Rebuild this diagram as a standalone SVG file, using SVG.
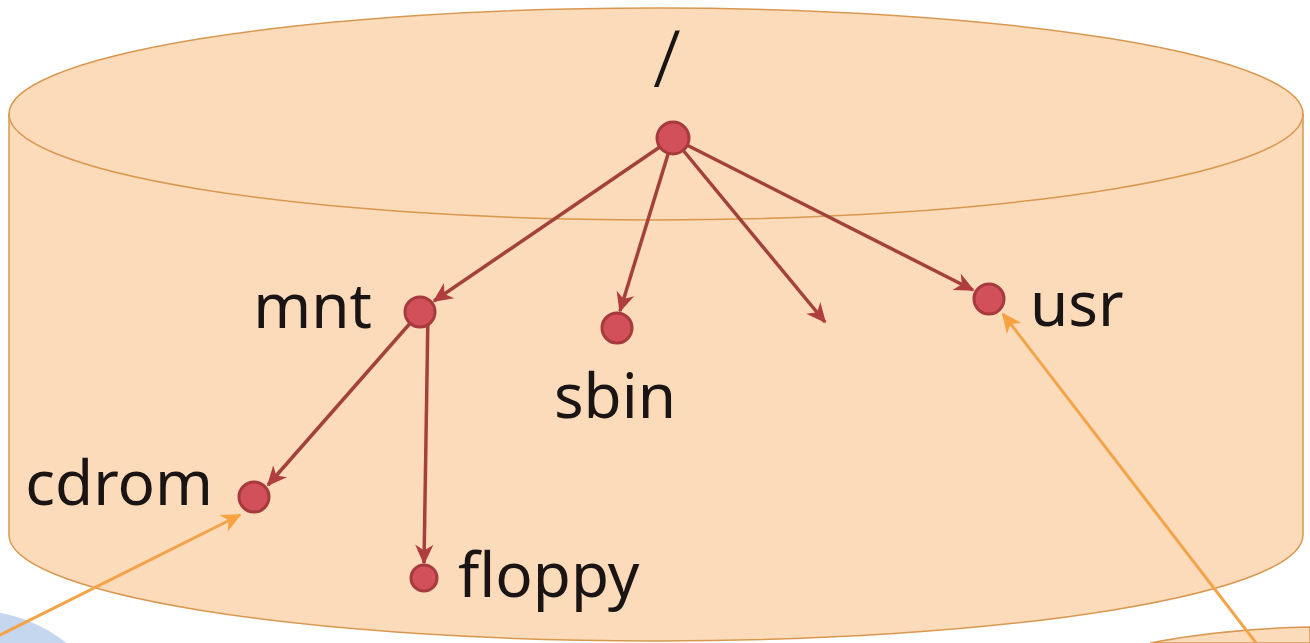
<svg xmlns="http://www.w3.org/2000/svg" width="1310" height="643" viewBox="0 0 1310 643">
<defs>
<style>
.cyl{fill:#fcdbbb;stroke:#d9984f;stroke-width:1.5}
.node{fill:#d1505a;stroke:#a63a3c;stroke-width:3}
.edge{stroke:#a3413b;stroke-width:3.5;fill:none}
.ext{stroke:#f3a448;stroke-width:3;fill:none}
.lbl{font-family:"Noto Sans","Open Sans",sans-serif;font-size:62px;fill:#1a1414}
</style>
<marker id="ah" viewBox="0 0 12 12" refX="11" refY="6" markerWidth="22" markerHeight="20" orient="auto" markerUnits="userSpaceOnUse">
<path d="M0,0.5 L12,6 L0,11.5 L3.5,6 Z" fill="#b03e3e"/>
</marker>
<marker id="ah2" viewBox="0 0 12 12" refX="11" refY="6" markerWidth="22" markerHeight="20" orient="auto" markerUnits="userSpaceOnUse">
<path d="M0,0.5 L12,6 L0,11.5 L3.5,6 Z" fill="#f5a23f"/>
</marker>
</defs>
<rect width="1310" height="643" fill="#ffffff"/>
<g id="background">
<ellipse cx="-30" cy="730" rx="140" ry="120" fill="#c4d7ee"/>
<path d="M1150,643 Q1220,629 1310,627 L1310,643 Z" fill="#fcdbbb" stroke="#d9984f" stroke-width="1.5"/>
</g>
<g id="cylinder">
<path class="cyl" d="M9,114 L9,535 A647,106 0 0 0 1303,535 L1303,114 Z"/>
<ellipse class="cyl" cx="656" cy="114" rx="647" ry="106"/>
</g>
<g id="connectors">
<line class="edge" x1="673" y1="138" x2="434" y2="301" marker-end="url(#ah)"/>
<line class="edge" x1="673" y1="138" x2="620" y2="311" marker-end="url(#ah)"/>
<line class="edge" x1="673" y1="138" x2="825" y2="322" marker-end="url(#ah)"/>
<line class="edge" x1="673" y1="138" x2="973" y2="290" marker-end="url(#ah)"/>
<line class="edge" x1="420" y1="312" x2="268" y2="485" marker-end="url(#ah)"/>
<line class="edge" x1="428" y1="312" x2="424" y2="563" marker-end="url(#ah)"/>
<line class="ext" x1="-10" y1="640" x2="240" y2="515" marker-end="url(#ah2)"/>
<line class="ext" x1="1260" y1="648" x2="1003" y2="314" marker-end="url(#ah2)"/>
</g>
<g id="node-root">
<circle class="node" cx="673" cy="138" r="16"/>
<text class="lbl" x="667" y="87" text-anchor="middle" style="font-size:80px;font-weight:300">/</text>
</g>
<g id="node-mnt">
<circle class="node" cx="420" cy="312" r="15"/>
<text class="lbl" x="372" y="328" text-anchor="end">mnt</text>
</g>
<g id="node-sbin">
<circle class="node" cx="617" cy="328" r="15"/>
<text class="lbl" x="615" y="418" text-anchor="middle">sbin</text>
</g>
<g id="node-usr">
<circle class="node" cx="989" cy="299" r="15"/>
<text class="lbl" x="1030" y="326">usr</text>
</g>
<g id="node-cdrom">
<circle class="node" cx="254" cy="497" r="15"/>
<text class="lbl" x="213" y="505" text-anchor="end">cdrom</text>
</g>
<g id="node-floppy">
<circle class="node" cx="424" cy="578" r="13"/>
<text class="lbl" x="458" y="597">floppy</text>
</g>
</svg>
